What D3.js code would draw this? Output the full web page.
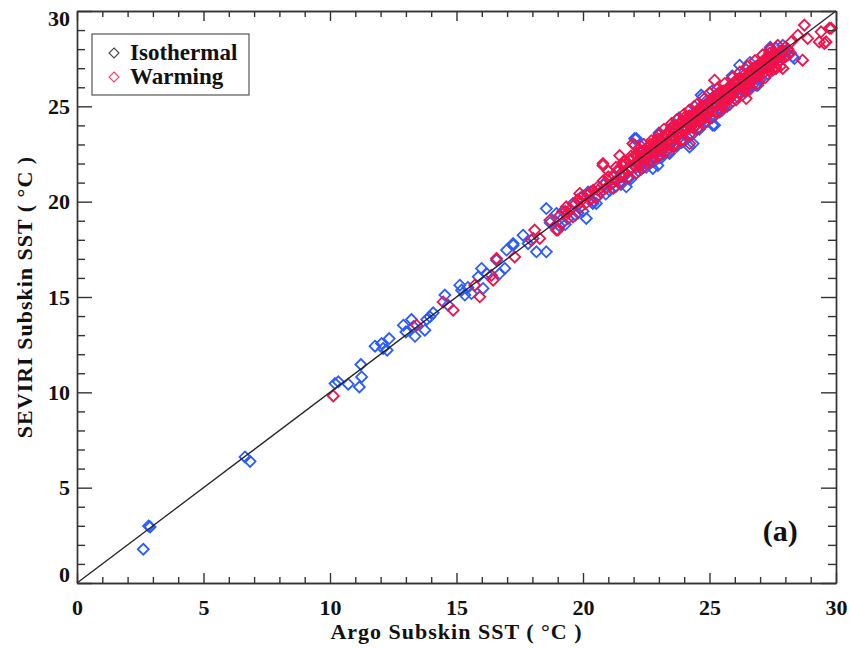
<!DOCTYPE html>
<html>
<head>
<meta charset="utf-8">
<script src="https://cdn.jsdelivr.net/npm/d3@7"></script>
<style>
  body { margin: 0; background: #fff; }
  #grafico { width: 849px; height: 649px; }
  text { font-family: "Liberation Serif", "Times New Roman", serif; font-weight: bold; fill: #111; }
</style>
</head>
<body>
<div id="grafico"></div>
<script>
// Argo vs SEVIRI subskin SST, [argo, seviri] in degC
var isothermal = [
  [2.62,1.77],[2.83,2.99],[2.89,2.94],[6.64,6.61],[6.84,6.38],
  [10.2,10.46],[10.33,10.55],[10.72,10.43],[11.16,10.28],[11.25,10.81],[11.22,11.46],
  [11.78,12.42],[12.1,12.3],[12.34,12.82],[12.26,12.21],[12.04,12.56],
  [12.9,13.52],[13.0,13.17],[13.22,13.82],[13.36,12.94],[13.75,13.26],[13.95,13.96],[14.08,14.17],[13.82,13.82],[13.3,13.45],
  [14.54,15.1],[14.67,14.57],
  [15.13,15.62],[15.33,15.1],[15.2,15.36],[15.59,15.18],[15.99,16.5],[16.05,15.45],[15.86,16.06],[15.45,15.5],
  [16.91,16.5],[16.71,16.23],[17.24,17.8],[16.98,17.46],[17.63,18.24],[17.83,17.8],[18.03,18.07],[18.55,17.37],
  [18.16,17.37],[16.19,16.23],[16.58,16.93],[17.24,17.72],
  [18.55,19.64],[18.95,19.38],[18.7,18.9],[19.05,18.75],[19.2,19.5],[19.4,19.1],[19.6,19.9],[19.8,19.4],
  [19.9,20.2],[20.13,19.12],[20.39,19.91],[20.53,19.91],[20.2,20.5],[20.6,20.3],[20.8,20.9],[21.05,20.59],
  [21.2,21.0],[21.4,21.6],[21.71,20.78],[21.6,21.3],[21.9,21.7],[22.04,23.31],[22.11,23.31],[22.2,21.9],
  [22.4,22.1],[22.5,22.6],[22.76,21.74],[22.96,21.9],[23.03,23.58],[22.8,22.4],[23.1,22.8],[23.2,22.5],
  [23.4,23.0],[23.42,22.53],[23.55,23.92],[23.6,23.3],[23.8,23.5],[23.9,23.1],[24.0,23.8],[24.21,22.87],
  [24.35,23.05],[24.2,24.0],[24.4,23.9],[24.5,24.5],[24.67,25.59],[24.74,25.5],[24.7,24.3],[24.9,24.6],
  [25.13,24.01],[25.2,24.01],[25.0,25.2],[25.3,25.0],[25.5,25.4],[25.6,25.0],[25.8,25.6],[26.0,25.7],
  [26.19,27.16],[26.2,26.0],[26.4,26.3],[26.5,25.9],[26.85,26.11],[26.91,26.11],[26.7,26.6],[26.9,26.8],
  [27.1,26.9],[27.2,27.4],[27.37,27.97],[27.63,28.04],[27.5,27.3],[27.8,27.6],[28.0,27.9],[28.29,27.6],[28.36,27.51],
  [19.3,18.8],[19.7,19.3],[20.0,19.5],[20.4,20.0],[20.9,20.4],[21.3,20.8],[21.8,21.2],[22.3,21.7],
  [22.6,22.0],[23.0,22.3],[23.3,22.7],[23.7,23.0],[24.1,23.4],[24.6,23.8],[25.0,24.4],[25.4,24.8],
  [21.5,20.9],[21.9,21.2],[22.2,21.6],[22.5,21.8],[22.8,22.1],[23.1,22.3],[23.4,22.6],[23.7,22.9],
  [24.0,23.2],[24.3,23.5],[24.6,23.9],[24.9,24.2],[25.2,24.5],[25.5,24.8],[25.8,25.1],[26.1,25.5],
  [26.4,25.8],[26.7,26.1],[27.0,26.4],[27.3,26.7],[27.6,27.0],
  [22.3,22.9],[23.0,23.6],[23.8,24.4],[24.4,25.0],[25.1,25.8],[25.9,26.6],[26.6,27.3],[27.4,28.1],[27.9,28.2]
];

var warming = [
  [10.13,9.81],[13.42,13.52],[14.47,14.74],[14.87,14.31],[15.72,15.62],[15.92,15.01],[16.58,17.02],[16.38,16.14],
  [16.45,15.88],[17.3,17.1],[18.29,18.07],[17.96,17.98],[18.09,18.51],[18.69,19.03],[19.01,18.51],[18.95,18.51],
  [19.34,19.73],[19.87,20.43],[20.79,21.9],[20.79,22.0],[21.45,22.42],[21.97,23.05],[22.04,22.96],
  [19.1,19.3],[19.2,18.9],[19.3,19.5],[19.5,19.6],[19.6,19.2],[19.7,19.9],[19.8,20.1],[19.9,19.7],
  [20.0,20.3],[20.1,19.9],[20.2,20.4],[20.3,20.1],[20.4,20.6],[20.5,20.2],[20.6,20.8],[20.7,20.5],
  [20.8,21.1],[20.9,20.7],[21.0,21.3],[21.1,20.9],[21.2,21.4],[21.3,21.1],[21.4,21.7],[21.5,21.3],
  [21.55,21.9],[21.6,21.5],[21.7,22.0],[21.8,21.6],[21.85,22.2],[21.9,21.8],[22.0,22.3],[22.05,21.9],
  [22.1,22.5],[22.2,22.1],[22.25,22.6],[22.3,22.3],[22.35,21.95],[22.4,22.7],[22.45,22.4],[22.5,22.2],
  [22.55,22.8],[22.6,22.5],[22.65,23.0],[22.7,22.6],[22.75,22.3],[22.8,22.9],[22.85,23.1],[22.9,22.7],
  [22.95,23.3],[23.0,22.9],[23.05,22.5],[23.1,23.2],[23.15,23.4],[23.2,23.0],[23.25,22.8],[23.3,23.5],
  [23.35,23.2],[23.4,23.7],[23.45,23.0],[23.5,23.4],[23.55,23.8],[23.6,23.6],[23.65,23.3],[23.7,23.9],
  [23.75,23.6],[23.8,24.1],[23.85,23.4],[23.9,23.8],[23.95,24.2],[24.0,24.0],[24.05,23.7],[24.1,24.3],
  [24.15,24.1],[24.2,24.5],[24.25,23.9],[24.3,24.3],[24.35,24.6],[24.4,24.2],[24.45,24.0],[24.5,24.7],
  [24.55,24.4],[24.6,24.9],[24.65,24.3],[24.7,24.6],[24.75,25.0],[24.8,24.7],[24.85,24.4],[24.9,25.1],
  [24.95,24.8],[25.0,25.3],[25.05,24.9],[25.1,25.1],[25.15,25.5],[25.2,25.0],[25.25,24.7],[25.3,25.4],
  [25.35,25.7],[25.4,25.2],[25.45,25.5],[25.5,25.0],[25.55,25.8],[25.6,25.4],[25.65,25.7],[25.7,25.3],
  [25.75,26.0],[25.8,25.7],[25.85,25.5],[25.9,26.1],[25.95,25.8],[26.0,26.3],[26.05,25.9],[26.1,26.2],
  [26.15,25.7],[26.2,26.5],[26.25,26.1],[26.3,26.4],[26.35,25.9],[26.4,26.7],[26.45,26.3],[26.5,26.6],
  [26.55,26.1],[26.6,26.8],[26.65,26.5],[26.7,27.0],[26.75,26.4],[26.8,26.8],[26.85,27.1],[26.9,26.6],
  [26.95,27.2],[27.0,26.9],[27.05,27.3],[27.1,26.7],[27.15,27.1],[27.2,27.5],[27.25,27.0],[27.3,27.3],
  [27.35,26.9],[27.4,27.6],[27.45,27.2],[27.5,27.5],[27.55,27.8],[27.6,27.1],[27.7,27.7],[27.8,27.4],
  [27.9,27.9],[28.0,27.6],[28.1,28.0],[28.2,27.8],
  [22.1,21.8],[22.3,22.6],[22.6,22.9],[22.9,23.0],[23.1,22.7],[23.3,23.1],[23.5,23.9],[23.6,23.0],
  [23.8,23.7],[24.0,24.4],[24.1,23.8],[24.3,24.0],[24.4,24.5],[24.6,24.2],[24.7,25.0],[24.9,24.5],
  [25.1,25.4],[25.2,25.2],[25.4,25.7],[25.5,25.2],[25.7,25.9],[25.8,25.4],[26.0,26.0],[26.1,26.4],
  [26.3,26.0],[26.4,26.5],[26.6,26.3],[26.7,26.7],[26.9,26.9],[27.0,27.2],[27.1,26.9],[27.3,27.6],
  [27.4,27.1],[27.6,27.6],[27.7,27.3],[27.8,27.9],[28.0,28.1],[28.1,27.7],
  [21.0,21.6],[21.3,21.8],[21.6,22.1],[21.9,22.4],[22.2,22.8],[22.4,23.0],[22.7,23.2],[23.0,23.5],
  [23.2,23.8],[23.5,24.1],[23.7,24.3],[24.0,24.6],[24.2,24.8],[24.5,25.1],[24.8,25.4],[25.0,25.7],
  [25.3,25.9],[25.6,26.2],[25.9,26.5],[26.2,26.8],[26.5,27.1],[26.8,27.4],[27.1,27.7],[27.4,28.0],[27.7,28.2],
  [21.2,20.7],[21.5,21.0],[21.8,21.3],[22.1,21.5],[22.4,21.8],[22.7,22.1],[23.0,22.4],[23.3,22.6],
  [23.6,22.9],[23.9,23.2],[24.2,23.5],[24.5,23.8],[24.8,24.1],[25.1,24.4],[25.4,24.7],[25.7,25.0],
  [26.0,25.4],[26.3,25.6],[26.6,25.9],[26.9,26.2],[27.2,26.5],[27.5,26.9],[27.8,27.1],
  [22.15,22.35],[22.45,22.55],[22.75,22.75],[23.05,23.1],[23.35,23.45],[23.65,23.7],[23.95,23.95],[24.25,24.2],
  [24.55,24.6],[24.85,24.9],[25.15,25.1],[25.45,25.35],[25.75,25.8],[26.05,26.15],[26.35,26.3],[26.65,26.7],
  [26.95,26.95],[27.25,27.2],[27.55,27.5],[27.85,27.75],
  [22.2,22.0],[22.5,22.4],[22.8,22.6],[23.1,23.0],[23.4,23.3],[23.7,23.5],[24.0,23.9],[24.3,24.2],
  [24.6,24.5],[24.9,24.8],[25.2,25.1],[25.5,25.5],[25.8,25.9],[26.1,26.0],[26.4,26.4],[26.7,26.5],
  [27.0,27.0],[27.3,27.4],[27.6,27.4],
  [19.4,19.4],[19.9,20.0],[20.3,20.5],[20.6,20.6],[20.9,21.0],
  [28.75,29.26],[28.88,28.56],[29.34,28.38],[29.54,28.3],[29.74,29.09],[29.41,28.91],[28.68,27.42],[28.49,28.73],
  [28.23,28.38],[27.9,26.99],[27.37,27.78],[25.2,26.37],[26.45,25.41],[26.05,25.33],[24.21,23.05],[27.63,26.99],
  [29.61,28.38],[29.81,29.09]
];

var majorTicks = [0, 5, 10, 15, 20, 25, 30];
var minorTicks = [1,2,3,4,6,7,8,9,11,12,13,14,16,17,18,19,21,22,23,24,26,27,28,29];
var legendLabels = ["Isothermal", "Warming"];
var legendColors = ["#444", "#ff3a66"];

function monta_grafico() {
  var margin = {top: 11, right: 13, bottom: 66, left: 77},
      width = 849 - margin.left - margin.right,
      height = 649 - margin.top - margin.bottom;

  var svg = d3.select("#grafico").append("svg")
      .attr("width", 849)
      .attr("height", 649)
    .append("g")
      .attr("transform", "translate(" + margin.left + "," + margin.top + ")");

  var x = d3.scaleLinear().domain([0, 30]).range([0, width]);
  var y = d3.scaleLinear().domain([0, 30]).range([height, 0]);

  var diamond = "M0,-5.5L5.5,0L0,5.5L-5.5,0Z";

  // points
  svg.append("g").selectAll("path")
      .data(isothermal)
    .enter().append("path")
      .attr("d", diamond)
      .attr("transform", function(d) { return "translate(" + x(d[0]) + "," + y(d[1]) + ")"; })
      .style("fill", "none")
      .style("stroke", "#2a5cff")
      .style("stroke-width", 1.8);

  svg.append("g").selectAll("path")
      .data(warming)
    .enter().append("path")
      .attr("d", diamond)
      .attr("transform", function(d) { return "translate(" + x(d[0]) + "," + y(d[1]) + ")"; })
      .style("fill", "none")
      .style("stroke", "#f2124a")
      .style("stroke-width", 1.8);

  // 1:1 line
  svg.append("line")
      .attr("x1", x(0)).attr("y1", y(0))
      .attr("x2", x(30)).attr("y2", y(30))
      .style("stroke", "#222")
      .style("stroke-width", 1.3);

  // axes, ticks point inward
  function eixo(gen, tvals, size, fmt, pad) {
    return gen.tickValues(tvals).tickSizeInner(size).tickSizeOuter(0)
      .tickPadding(pad).tickFormat(fmt);
  }
  var estilo = function(g) {
    g.selectAll("path, line").style("stroke", "#333").style("stroke-width", 1.4);
    g.selectAll("text").style("font-size", "22px").style("fill", "#111")
      .style("font-family", "'Liberation Serif', 'Times New Roman', serif").style("font-weight", "bold");
  };

  svg.append("g").attr("transform", "translate(0," + height + ")")
      .call(eixo(d3.axisBottom(x), majorTicks, -10, d3.format("d"), 16)).call(estilo);
  svg.append("g").attr("transform", "translate(0," + height + ")")
      .call(eixo(d3.axisBottom(x), minorTicks, -6, "", 0)).call(estilo);
  svg.append("g")
      .call(eixo(d3.axisTop(x), majorTicks, -10, "", 0)).call(estilo);
  svg.append("g")
      .call(eixo(d3.axisTop(x), minorTicks, -6, "", 0)).call(estilo);

  var eixoY = svg.append("g")
      .call(eixo(d3.axisLeft(y), majorTicks, -15, d3.format("d"), 7)).call(estilo);
  // end labels sit inside the frame, like the original
  eixoY.selectAll("text")
      .attr("y", function(d) { return d === 30 ? 7 : (d === 0 ? -9 : 0); });
  svg.append("g")
      .call(eixo(d3.axisLeft(y), minorTicks, -8, "", 0)).call(estilo);
  svg.append("g").attr("transform", "translate(" + width + ",0)")
      .call(eixo(d3.axisRight(y), majorTicks, -15, "", 0)).call(estilo);
  svg.append("g").attr("transform", "translate(" + width + ",0)")
      .call(eixo(d3.axisRight(y), minorTicks, -8, "", 0)).call(estilo);

  // axis titles
  svg.append("text")
      .attr("x", width / 2).attr("y", height + 56)
      .attr("text-anchor", "middle")
      .style("font-size", "22px")
      .style("letter-spacing", "1px")
      .text("Argo Subskin SST ( \u00B0C )");

  svg.append("text")
      .attr("transform", "translate(" + (-45) + "," + (height / 2) + ") rotate(-90)")
      .attr("text-anchor", "middle")
      .style("font-size", "22px")
      .style("letter-spacing", "1px")
      .text("SEVIRI Subskin SST ( \u00B0C )");

  // panel label
  svg.append("text")
      .attr("x", x(27.8)).attr("y", y(2.2))
      .attr("text-anchor", "middle")
      .style("font-size", "30px")
      .text("(a)");

  // legend
  var leg = svg.append("g").attr("transform", "translate(15,23)");
  leg.append("rect")
      .attr("width", 157).attr("height", 61)
      .style("fill", "#fff").style("stroke", "#555").style("stroke-width", 1.2);
  legendLabels.forEach(function(lab, i) {
    leg.append("path")
        .attr("d", "M0,-5L5,0L0,5L-5,0Z")
        .attr("transform", "translate(22," + (19 + i * 24) + ")")
        .style("fill", "none").style("stroke", legendColors[i]).style("stroke-width", 1.1);
    leg.append("text")
        .attr("x", 38).attr("y", 26 + i * 24)
        .style("font-size", "23px")
        .text(lab);
  });
}

monta_grafico();
</script>
</body>
</html>
